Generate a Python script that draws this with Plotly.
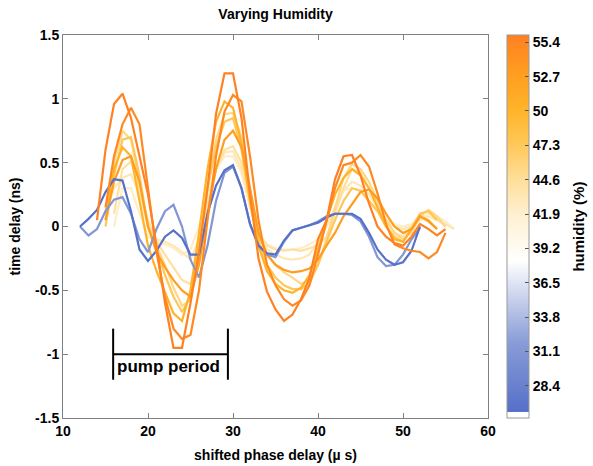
import plotly.graph_objects as go

# ---------------- data ----------------
x_ticks = [10, 20, 30, 40, 50, 60]
y_ticks = [-1.5, -1, -0.5, 0, 0.5, 1, 1.5]
y_tick_text = ["-1.5", "-1", "-0.5", "0", "0.5", "1", "1.5"]
cbar_ticks = [28.4, 31.1, 33.8, 36.5, 39.2, 41.9, 44.6, 47.3, 50, 52.7, 55.4]
cbar_tick_text = ["28.4", "31.1", "33.8", "36.5", "39.2", "41.9", "44.6", "47.3", "50", "52.7", "55.4"]
h_min, h_max = 25.87, 55.97

# each curve: humidity, first x, y values at 1 us steps
b1_h, b1_x0 = 26.5, 12
b1_y = [0.00, 0.06, 0.13, 0.27, 0.37, 0.36, 0.12, -0.18, -0.27, -0.19, -0.08, -0.03, -0.09,
        -0.22, -0.22, 0.10, 0.32, 0.44, 0.48, 0.30, 0.02, -0.15, -0.21, -0.22, -0.11, -0.03,
        -0.01, 0.01, 0.03, 0.07, 0.10, 0.10, 0.10, 0.06, -0.05, -0.18, -0.26, -0.30, -0.28,
        -0.19, 0.00]
b2_h, b2_x0 = 31.0, 12
b2_y = [0.00, -0.07, -0.02, 0.12, 0.21, 0.23, 0.10, -0.10, -0.20, -0.02, 0.12, 0.17, 0.00,
        -0.26, -0.40, -0.15, 0.20, 0.42, 0.47, 0.30, 0.02, -0.15, -0.22, -0.24, -0.12, -0.03,
        -0.01, 0.01, 0.04, 0.08, 0.10, 0.10, 0.09, 0.04, -0.08, -0.24, -0.31, -0.30, -0.22,
        -0.10, -0.01]
y7_h, y7_x0 = 42.3, 16
y7_y = [0.00, 0.30, 0.30, 0.10, -0.08, -0.12, -0.14, -0.17, -0.22, -0.18, 0.00, 0.25, 0.45,
        0.55, 0.55, 0.42, 0.15, -0.05, -0.14, -0.17, -0.18, -0.18, -0.17, -0.14, -0.10, 0.00,
        0.15, 0.28, 0.30, 0.28, 0.20, 0.12, 0.05, 0.02, 0.00, 0.02, 0.06, 0.10, 0.08, 0.04, -0.02]
y6_h, y6_x0 = 43.3, 15
y6_y = [0.10, 0.30, 0.38, 0.41, 0.25, 0.00, -0.10, -0.12, -0.15, -0.20, -0.26, -0.10, 0.20,
        0.45, 0.58, 0.59, 0.45, 0.15, -0.08, -0.18, -0.22, -0.25, -0.26, -0.25, -0.22, -0.12,
        0.00, 0.15, 0.28, 0.35, 0.32, 0.25, 0.15, 0.05, 0.00, -0.02, 0.00, 0.05, 0.08, 0.05,
        0.02, -0.02]
y5_h, y5_x0 = 44.3, 16
y5_y = [0.10, 0.45, 0.51, 0.30, 0.05, -0.12, -0.22, -0.32, -0.42, -0.45, -0.25, 0.15, 0.45,
        0.60, 0.63, 0.50, 0.20, -0.05, -0.15, -0.18, -0.19, -0.18, -0.19, -0.17, -0.15, -0.08,
        0.10, 0.30, 0.45, 0.42, 0.30, 0.18, 0.05, -0.05, -0.08, 0.00, 0.10, 0.12, 0.06, 0.00]
y4_h, y4_x0 = 45.5, 15
y4_y = [0.05, 0.50, 0.75, 0.68, 0.35, 0.00, -0.15, -0.30, -0.48, -0.62, -0.58, -0.20, 0.30,
        0.68, 0.88, 0.89, 0.70, 0.30, -0.05, -0.22, -0.30, -0.36, -0.40, -0.45, -0.42, -0.30,
        -0.10, 0.15, 0.38, 0.49, 0.45, 0.35, 0.20, 0.05, -0.05, -0.10, -0.05, 0.08, 0.13, 0.08,
        0.00]
y3_h, y3_x0 = 47.5, 15
y3_y = [0.00, 0.40, 0.68, 0.70, 0.40, 0.00, -0.18, -0.38, -0.55, -0.67, -0.55, -0.15, 0.30,
        0.62, 0.82, 0.85, 0.60, 0.20, -0.10, -0.30, -0.40, -0.46, -0.49, -0.49, -0.44, -0.30,
        -0.12, 0.05, 0.20, 0.30, 0.28, 0.20, 0.12, 0.00, -0.08, -0.12, -0.02, 0.10, 0.12, 0.05]
y1_h, y1_x0 = 50.2, 15
y1_y = [0.10, 0.45, 0.62, 0.55, 0.20, -0.15, -0.35, -0.52, -0.68, -0.74, -0.50, -0.05, 0.45,
        0.82, 0.98, 0.93, 0.65, 0.20, -0.15, -0.35, -0.45, -0.50, -0.52, -0.48, -0.38, -0.18,
        0.05, 0.25, 0.38, 0.45, 0.40, 0.30, 0.15, 0.00, -0.10, -0.12, -0.02, 0.08, 0.05, -0.02]
y2_h, y2_x0 = 53.0, 15
y2_y = [0.05, 0.35, 0.52, 0.55, 0.35, 0.00, -0.20, -0.32, -0.42, -0.50, -0.55, -0.30, 0.10,
        0.45, 0.68, 0.75, 0.62, 0.30, -0.05, -0.22, -0.30, -0.34, -0.36, -0.35, -0.33, -0.26,
        -0.15, -0.05, 0.08, 0.18, 0.27, 0.29, 0.22, 0.10, 0.00, -0.05, -0.02, 0.08, 0.04, -0.02]
o2_h, o2_x0 = 55.0, 15
o2_y = [0.15, 0.55, 0.80, 0.93, 0.80, 0.30, -0.20, -0.55, -0.80, -0.88, -0.85, -0.50, 0.05,
        0.55, 0.90, 1.03, 0.98, 0.55, 0.05, -0.30, -0.46, -0.57, -0.62, -0.58, -0.46, -0.22,
        0.05, 0.30, 0.48, 0.50, 0.56, 0.47, 0.26, 0.02, -0.14, -0.17, -0.19, -0.20, -0.25,
        -0.20, -0.05]
o1_h, o1_x0 = 55.9, 14
o1_y = [0.05, 0.60, 0.96, 1.04, 0.85, 0.55, 0.25, -0.15, -0.60, -0.95, -0.95, -0.60, -0.20,
        0.30, 0.88, 1.20, 1.20, 0.85, 0.25, -0.25, -0.51, -0.65, -0.74, -0.69, -0.57, -0.40,
        -0.10, 0.05, 0.37, 0.55, 0.56, 0.40, 0.18, 0.00, -0.08, -0.13, -0.15, -0.08, 0.02,
        -0.02, -0.07, -0.02]

curves = [
    (y7_h, y7_x0, y7_y), (y6_h, y6_x0, y6_y), (y5_h, y5_x0, y5_y), (y4_h, y4_x0, y4_y),
    (y3_h, y3_x0, y3_y), (y1_h, y1_x0, y1_y), (y2_h, y2_x0, y2_y),
    (b2_h, b2_x0, b2_y), (b1_h, b1_x0, b1_y),
    (o2_h, o2_x0, o2_y), (o1_h, o1_x0, o1_y),
]

# pump-period bracket (data units)
pump_x0, pump_x1 = 15.9, 29.4
pump_y_mid, pump_y_top, pump_y_bot = -1.0, -0.8, -1.2
pump_label, pump_label_x, pump_label_y = "pump period", 22.4, -1.10

# ---------------- colour scale ----------------
scale_pts = [
    (0.017, (85, 112, 200)), (0.20, (138, 157, 216)), (0.37, (232, 236, 247)),
    (0.41, (255, 255, 255)), (0.53, (255, 240, 210)), (0.62, (255, 223, 156)),
    (0.71, (255, 201, 92)), (0.80, (255, 181, 42)), (0.89, (255, 160, 32)),
    (1.00, (255, 128, 34)),
]


def rgb(c):
    return "rgb(%d,%d,%d)" % c


colorscale = [[0.0, "rgb(255,255,255)"], [0.016, "rgb(255,255,255)"]] + \
             [[p, rgb(c)] for p, c in scale_pts]


def color_for(h):
    f = (h - h_min) / (h_max - h_min)
    f = min(max(f, scale_pts[0][0]), 1.0)
    for (p0, c0), (p1, c1) in zip(scale_pts[:-1], scale_pts[1:]):
        if p0 <= f <= p1:
            t = (f - p0) / (p1 - p0)
            return rgb(tuple(round(a + (b - a) * t) for a, b in zip(c0, c1)))
    return rgb(scale_pts[-1][1])


FONT = "Liberation Sans, Arial, Helvetica, sans-serif"

fig = go.Figure()
for h, x0, ys in curves:
    xs = [x0 + i for i in range(len(ys))]
    fig.add_trace(go.Scatter(x=xs, y=ys, mode="lines",
                             line=dict(color=color_for(h), width=2.2),
                             showlegend=False, hoverinfo="skip"))

# colour bar via dummy trace
fig.add_trace(go.Scatter(
    x=[None], y=[None], mode="markers", showlegend=False, hoverinfo="skip",
    marker=dict(color=[h_min], cmin=h_min, cmax=h_max, colorscale=colorscale,
                showscale=True,
                colorbar=dict(x=1.0447, xanchor="left", xref="paper",
                              y=0.5, yanchor="middle", len=1.0, lenmode="fraction",
                              thickness=22, outlinecolor="#999999", outlinewidth=1,
                              tickvals=cbar_ticks, ticktext=cbar_tick_text,
                              ticks="inside", ticklen=4, tickcolor="#555555",
                              tickfont=dict(family=FONT, size=14, color="black", weight="bold"),
                              xpad=0, ypad=0))))

# pump period bracket
for (xa, ya, xb, yb) in [(pump_x0, pump_y_top, pump_x0, pump_y_bot),
                         (pump_x1, pump_y_top, pump_x1, pump_y_bot),
                         (pump_x0, pump_y_mid, pump_x1, pump_y_mid)]:
    fig.add_shape(type="line", x0=xa, y0=ya, x1=xb, y1=yb, xref="x", yref="y",
                  line=dict(color="black", width=2))

fig.add_annotation(x=pump_label_x, y=pump_label_y, text=pump_label, showarrow=False,
                   font=dict(family=FONT, size=17, color="black", weight="bold"))
fig.add_annotation(x=1.212, y=0.5, xref="paper", yref="paper", text="humidity (%)",
                   xanchor="center", yanchor="middle",
                   textangle=-90, showarrow=False,
                   font=dict(family=FONT, size=15, color="black", weight="bold"))

axis_common = dict(showline=True, linecolor="#808080", linewidth=1, mirror="ticks",
                   ticks="inside", ticklen=5, tickcolor="#808080", showgrid=False,
                   zeroline=False,
                   tickfont=dict(family=FONT, size=14, color="black", weight="bold"))

fig.update_layout(
    width=593, height=466, autosize=False,
    margin=dict(l=63, r=105, t=35, b=48, autoexpand=False),
    paper_bgcolor="white", plot_bgcolor="white",
    font=dict(family=FONT, size=14, color="black", weight="bold"),
    title=dict(text="Varying Humidity", x=0.4646, xanchor="center", y=0.97,
               yanchor="middle", font=dict(family=FONT, size=14, color="black", weight="bold")),
    xaxis=dict(range=[10, 60], tickvals=x_ticks, ticktext=[str(v) for v in x_ticks],
               title=dict(text="shifted phase delay (\u00b5 s)", standoff=12,
                          font=dict(family=FONT, size=14, color="black", weight="bold")),
               automargin=False, **axis_common),
    yaxis=dict(range=[-1.5, 1.5], tickvals=y_ticks, ticktext=y_tick_text,
               title=dict(text="time delay (ns)", standoff=11,
                          font=dict(family=FONT, size=14, color="black", weight="bold")),
               automargin=False, **axis_common),
)

fig.write_html("out.html", config={"displayModeBar": False},
               post_script="document.body.style.margin='0';document.body.style.overflow='hidden';")
